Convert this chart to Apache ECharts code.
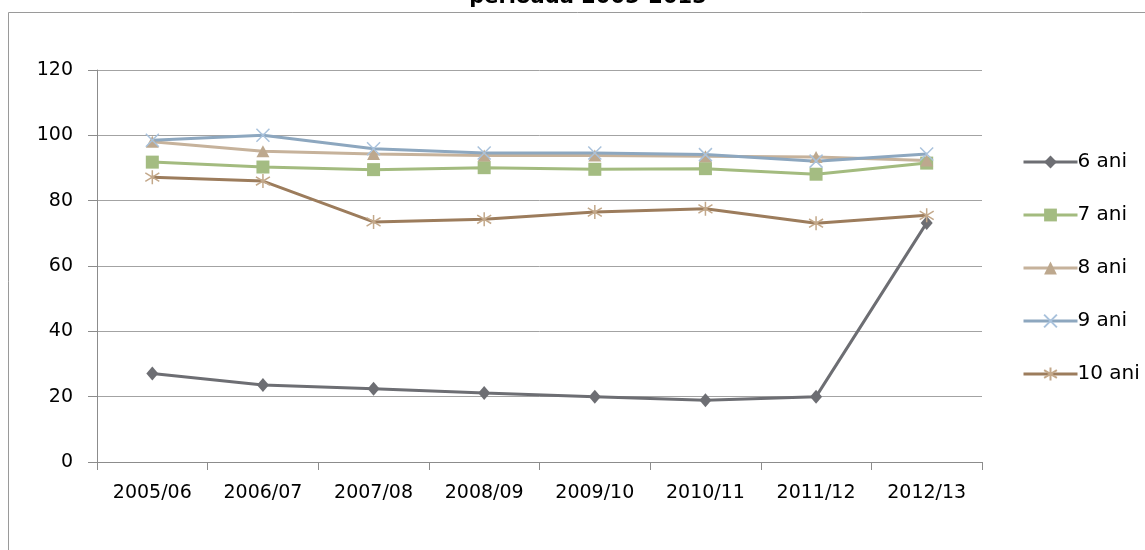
<!DOCTYPE html>
<html><head><meta charset="utf-8">
<script src="https://cdn.jsdelivr.net/npm/echarts@6/dist/echarts.min.js"></script>
<style>html,body{margin:0;padding:0;background:#fff}#c{width:1145px;height:550px}</style>
</head><body><div id="c"></div>
<script>
var categories = ['2005/06','2006/07','2007/08','2008/09','2009/10','2010/11','2011/12','2012/13'];
var ani6  = [27.1, 23.6, 22.4, 21.1, 20.0, 18.9, 20.0, 73.2];
var ani7  = [91.8, 90.3, 89.5, 90.1, 89.6, 89.8, 88.1, 91.5];
var ani8  = [98.0, 95.1, 94.3, 93.8, 93.8, 93.6, 93.4, 92.3];
var ani9  = [98.5, 100.0, 95.9, 94.6, 94.6, 94.1, 92.1, 94.3];
var ani10 = [87.2, 86.0, 73.5, 74.3, 76.5, 77.5, 73.1, 75.5];
var yTicks = [0, 20, 40, 60, 80, 100, 120];

var FONT = 'DejaVu Sans';
var crossPath = 'path://M0,0L10,10M10,0L0,10';
var starPath = 'path://M5,0L5,10M0.8,2L9.2,8M9.2,2L0.8,8';

function mk(name, data, lineColor, symbol, size, item) {
  return {
    name: name, type: 'line', data: data,
    symbol: symbol, symbolSize: size, showAllSymbol: true,
    lineStyle: {color: lineColor, width: 3},
    itemStyle: item,
    emphasis: {disabled: true}
  };
}

var chart = echarts.init(document.getElementById('c'), null, {renderer: 'canvas'});
chart.setOption({
  animation: false,
  backgroundColor: '#ffffff',
  title: {
    text: 'perioada 2005-2013', left: 583, textAlign: 'center', top: -18,
    textStyle: {fontFamily: FONT, fontSize: 21, fontWeight: 'bold', color: '#000'}
  },
  graphic: [{
    type: 'rect', silent: true,
    shape: {x: 8.5, y: 12.5, width: 1200, height: 600},
    style: {fill: 'none', stroke: '#9a9a9a', lineWidth: 1}
  }],
  grid: {left: 97, right: 163, top: 70, bottom: 88, containLabel: false},
  legend: {
    orient: 'vertical', left: 1017, top: 146,
    itemWidth: 54, itemHeight: 16, itemGap: 31,
    lineStyle: {width: 3},
    textStyle: {fontFamily: FONT, fontSize: 20, color: '#000', lineHeight: 22, padding: [0, 0, 0, -5]},
    data: ['6 ani', '7 ani', '8 ani', '9 ani', '10 ani']
  },
  xAxis: {
    type: 'category', data: categories, boundaryGap: true,
    axisLine: {lineStyle: {color: '#8c8c8c', width: 1}},
    axisTick: {show: true, length: 8, lineStyle: {color: '#8c8c8c'}},
    axisLabel: {fontFamily: FONT, fontSize: 19, color: '#000', margin: 22, interval: 0},
    splitLine: {show: false}
  },
  yAxis: {
    type: 'value', min: yTicks[0], max: yTicks[yTicks.length - 1], interval: 20,
    axisLine: {show: true, lineStyle: {color: '#8c8c8c', width: 1}},
    axisTick: {show: true, length: 9, lineStyle: {color: '#8c8c8c'}},
    axisLabel: {fontFamily: FONT, fontSize: 19, color: '#000', margin: 24},
    splitLine: {show: true, lineStyle: {color: '#a3a3a3', width: 1}}
  },
  series: [
    mk('6 ani', ani6, '#6d6e73', 'diamond', [12, 14], {color: '#6d6e73'}),
    mk('7 ani', ani7, '#a3bb7f', 'rect', 13, {color: '#a4bc82'}),
    mk('8 ani', ani8, '#c6b29b', 'triangle', [13, 12], {color: '#bda88e'}),
    mk('9 ani', ani9, '#8da7bf', crossPath, 13, {color: '#8da7bf', borderColor: '#a9c2dc', borderWidth: 1.5}),
    mk('10 ani', ani10, '#9c7c5c', starPath, 14, {color: '#9c7c5c', borderColor: '#c3a88a', borderWidth: 1.5})
  ]
});
</script>
</body></html>
